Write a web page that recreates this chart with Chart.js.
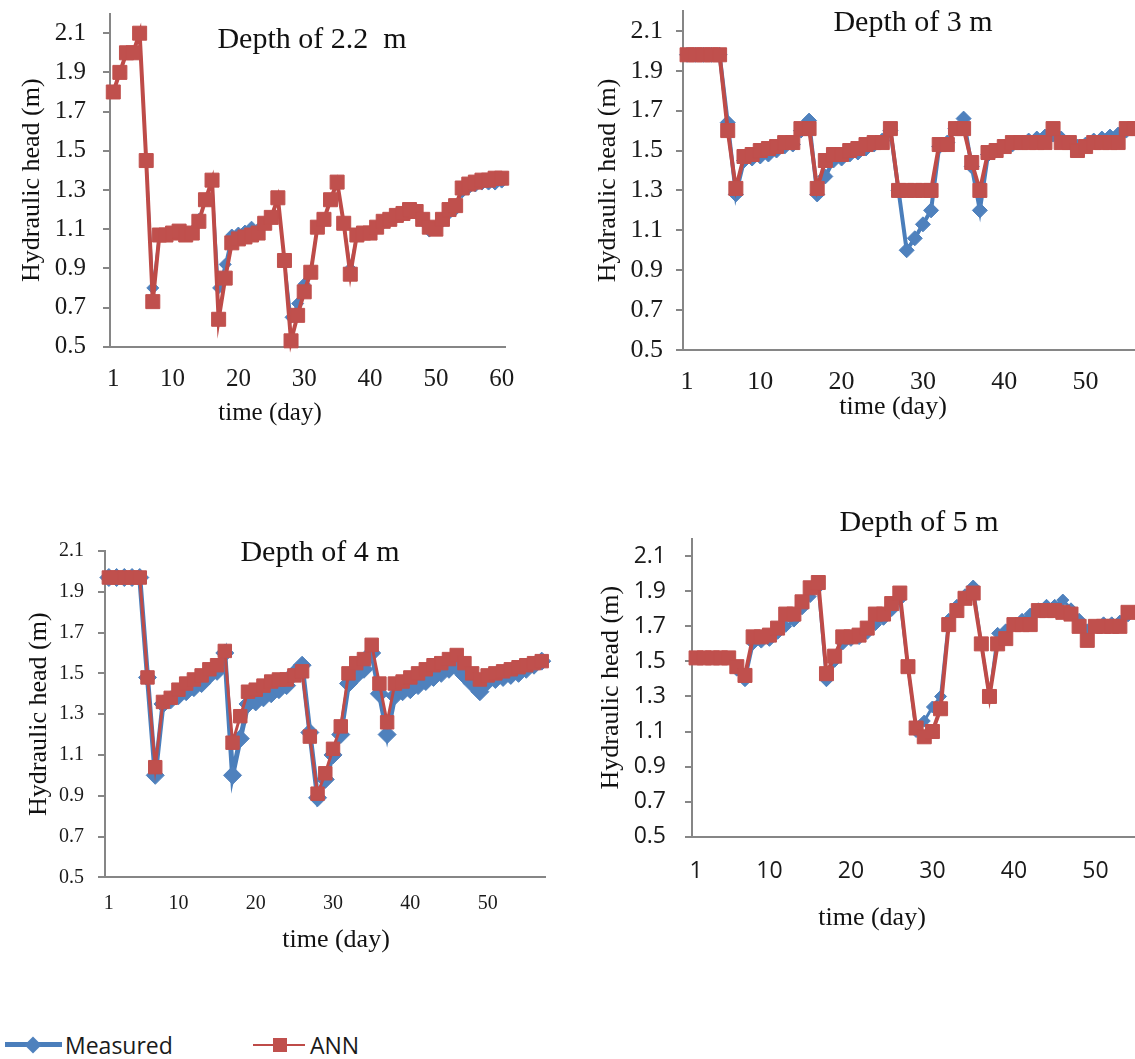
<!DOCTYPE html>
<html>
<head>
<meta charset="utf-8">
<script src="https://cdn.jsdelivr.net/npm/chart.js@4.4.1/dist/chart.umd.min.js"></script>
<style>
  html, body { margin: 0; padding: 0; background: #fff; overflow: hidden; }
  #wrap { position: relative; width: 1135px; height: 1059px; overflow: hidden; background: #fff; }
  #wrap canvas { position: absolute; }
  .leg { position: absolute; font-family: "Open Sans", sans-serif; font-size: 23px; color: #1a1a1a; line-height: 26px; height: 26px; }
  .legline { position: absolute; }
</style>
</head>
<body>
<div id="wrap">
  <canvas id="c1" width="560" height="440" style="left:0px;top:0px"></canvas>
  <canvas id="c2" width="640" height="440" style="left:560px;top:0px"></canvas>
  <canvas id="c3" width="560" height="500" style="left:0px;top:480px"></canvas>
  <canvas id="c4" width="640" height="480" style="left:560px;top:480px"></canvas>

  <div class="legline" style="left:5px;top:1042px;width:57px;height:5px;background:#4a7ebb"></div>
  <div class="legline" style="left:27px;top:1039px;width:12px;height:12px;background:#4f81bd;transform:rotate(45deg)"></div>
  <div class="leg" style="left:65px;top:1032px">Measured</div>
  <div class="legline" style="left:253px;top:1044px;width:52px;height:2px;background:#be4b48"></div>
  <div class="legline" style="left:273px;top:1038px;width:14px;height:14px;background:#c0504d"></div>
  <div class="leg" style="left:310px;top:1032px">ANN</div>
</div>
<script>
// tick values
var yTicks = [0.5, 0.7, 0.9, 1.1, 1.3, 1.5, 1.7, 1.9, 2.1];
var xTicks60 = [1, 10, 20, 30, 40, 50, 60];
var xTicks57 = [1, 10, 20, 30, 40, 50];

// depth 2.2 m
var measured22 = [1.80, 1.90, 2.00, 2.00, 2.10, 1.45, 0.80, 1.07, 1.07, 1.08,
                  1.09, 1.08, 1.09, 1.15, 1.25, 1.34, 0.80, 0.92, 1.07, 1.08,
                  1.09, 1.11, 1.10, 1.13, 1.16, 1.25, 0.94, 0.65, 0.72, 0.82,
                  0.89, 1.11, 1.15, 1.25, 1.33, 1.13, 0.90, 1.07, 1.08, 1.08,
                  1.11, 1.13, 1.15, 1.16, 1.17, 1.19, 1.18, 1.14, 1.09, 1.10,
                  1.14, 1.18, 1.20, 1.29, 1.31, 1.32, 1.33, 1.33, 1.33, 1.34];
var ann22 = [1.80, 1.90, 2.00, 2.00, 2.10, 1.45, 0.73, 1.07, 1.07, 1.08,
             1.09, 1.07, 1.08, 1.14, 1.25, 1.35, 0.64, 0.85, 1.03, 1.05,
             1.06, 1.07, 1.08, 1.13, 1.16, 1.26, 0.94, 0.53, 0.66, 0.78,
             0.88, 1.11, 1.15, 1.25, 1.34, 1.13, 0.87, 1.07, 1.08, 1.08,
             1.11, 1.14, 1.15, 1.17, 1.18, 1.20, 1.19, 1.15, 1.11, 1.10,
             1.15, 1.20, 1.22, 1.31, 1.33, 1.34, 1.35, 1.35, 1.36, 1.36];

// depth 3 m
var measured3 = [1.98, 1.98, 1.98, 1.98, 1.98, 1.64, 1.28, 1.45, 1.46, 1.47,
                 1.48, 1.50, 1.52, 1.53, 1.60, 1.65, 1.28, 1.37, 1.45, 1.46,
                 1.48, 1.49, 1.51, 1.53, 1.55, 1.60, 1.30, 1.00, 1.06, 1.13,
                 1.20, 1.52, 1.54, 1.61, 1.66, 1.42, 1.20, 1.48, 1.50, 1.52,
                 1.53, 1.54, 1.55, 1.56, 1.57, 1.58, 1.56, 1.54, 1.52, 1.53,
                 1.55, 1.56, 1.57, 1.58, 1.60, 1.61];
var ann3 = [1.98, 1.98, 1.98, 1.98, 1.98, 1.60, 1.31, 1.47, 1.48, 1.50,
            1.51, 1.52, 1.54, 1.54, 1.61, 1.61, 1.31, 1.45, 1.48, 1.48,
            1.50, 1.51, 1.53, 1.54, 1.54, 1.61, 1.30, 1.30, 1.30, 1.30,
            1.30, 1.53, 1.53, 1.61, 1.61, 1.44, 1.30, 1.49, 1.50, 1.52,
            1.54, 1.54, 1.54, 1.54, 1.54, 1.61, 1.54, 1.54, 1.50, 1.52,
            1.54, 1.54, 1.54, 1.54, 1.61, 1.61];

// depth 4 m
var measured4 = [1.97, 1.97, 1.97, 1.97, 1.97, 1.48, 1.00, 1.35, 1.37, 1.39,
                 1.41, 1.43, 1.45, 1.49, 1.51, 1.60, 1.00, 1.18, 1.35, 1.36,
                 1.38, 1.40, 1.42, 1.44, 1.50, 1.54, 1.21, 0.89, 0.98, 1.10,
                 1.20, 1.45, 1.49, 1.52, 1.60, 1.40, 1.20, 1.39, 1.41, 1.42,
                 1.44, 1.46, 1.48, 1.50, 1.52, 1.53, 1.49, 1.45, 1.41, 1.46,
                 1.47, 1.48, 1.49, 1.50, 1.52, 1.54, 1.56];
var ann4 = [1.97, 1.97, 1.97, 1.97, 1.97, 1.48, 1.04, 1.36, 1.38, 1.42,
            1.45, 1.47, 1.49, 1.52, 1.54, 1.61, 1.16, 1.29, 1.41, 1.42,
            1.44, 1.46, 1.47, 1.47, 1.49, 1.51, 1.19, 0.91, 1.01, 1.13,
            1.24, 1.50, 1.55, 1.57, 1.64, 1.45, 1.26, 1.45, 1.46, 1.48,
            1.50, 1.52, 1.54, 1.55, 1.57, 1.59, 1.55, 1.50, 1.47, 1.49,
            1.50, 1.51, 1.52, 1.53, 1.54, 1.55, 1.56];

// depth 5 m
var measured5 = [1.52, 1.52, 1.52, 1.52, 1.52, 1.45, 1.39, 1.60, 1.61, 1.62,
                 1.66, 1.70, 1.73, 1.80, 1.87, 1.92, 1.39, 1.50, 1.60, 1.62,
                 1.63, 1.66, 1.71, 1.74, 1.79, 1.85, 1.47, 1.10, 1.16, 1.24,
                 1.30, 1.74, 1.82, 1.88, 1.93, 1.60, 1.30, 1.66, 1.68, 1.71,
                 1.74, 1.77, 1.80, 1.82, 1.82, 1.85, 1.80, 1.74, 1.68, 1.70,
                 1.72, 1.72, 1.73, 1.76];
var ann5 = [1.52, 1.52, 1.52, 1.52, 1.52, 1.47, 1.42, 1.64, 1.64, 1.65,
            1.69, 1.77, 1.77, 1.84, 1.92, 1.95, 1.43, 1.53, 1.64, 1.64,
            1.65, 1.69, 1.77, 1.77, 1.83, 1.89, 1.47, 1.12, 1.07, 1.10,
            1.23, 1.71, 1.79, 1.86, 1.89, 1.60, 1.30, 1.60, 1.63, 1.71,
            1.71, 1.71, 1.79, 1.79, 1.79, 1.78, 1.77, 1.70, 1.62, 1.70,
            1.70, 1.70, 1.70, 1.78];

var serif = '"Liberation Serif", "Times New Roman", serif';
var sans = '"Open Sans", sans-serif';

// draws panel title and x axis title at fixed spots
var panelText = {
    id: 'panelText',
    afterDraw: function(chart, args, opts) {
        var ctx = chart.ctx;
        (opts.items || []).forEach(function(it) {
            ctx.save();
            ctx.font = it.size + 'px ' + serif;
            ctx.fillStyle = '#111';
            ctx.textAlign = 'center';
            ctx.textBaseline = 'middle';
            ctx.fillText(it.text, it.x, it.y);
            ctx.restore();
        });
    }
};

function toPoints(arr) {
    return arr.map(function(v, i) { return {x: i + 1, y: v}; });
}

function panel(id, p) {
    var box = p.box, area = p.area;
    var yW = area.l - box.l;
    var xH = box.t + box.h - area.b;
    var tickFont = p.sansTicks ? sans : serif;

    new Chart(document.getElementById(id), {
        type: 'line',
        data: {
            datasets: [{
                label: 'ANN',
                data: toPoints(p.ann),
                order: 1,
                borderColor: '#be4b48',
                borderWidth: p.annLine,
                pointStyle: 'rect',
                pointRadius: p.sq,
                pointBackgroundColor: '#c0504d',
                pointBorderColor: '#c0504d',
                pointBorderWidth: 1,
                tension: 0,
                clip: false
            }, {
                label: 'Measured',
                data: toPoints(p.meas),
                order: 2,
                borderColor: '#4a7ebb',
                borderWidth: p.measLine,
                pointStyle: 'rectRot',
                pointRadius: p.dia,
                pointBackgroundColor: '#4f81bd',
                pointBorderColor: '#4f81bd',
                pointBorderWidth: 1,
                tension: 0,
                clip: false
            }]
        },
        options: {
            responsive: false,
            animation: false,
            devicePixelRatio: 1,
            layout: {
                padding: { left: 0, top: area.t - box.t, right: box.l + box.w - area.r, bottom: 0 }
            },
            plugins: {
                legend: { display: false },
                tooltip: { enabled: false },
                panelText: {
                    items: [
                        { text: p.title, x: p.titlePos[0] - box.l, y: p.titlePos[1] - box.t, size: 30 },
                        { text: 'time (day)', x: p.xTitlePos[0] - box.l, y: p.xTitlePos[1] - box.t, size: p.xTitleSize }
                    ]
                }
            },
            scales: {
                x: {
                    type: 'linear',
                    min: 0.5,
                    max: p.xMax,
                    afterBuildTicks: function(s) { s.ticks = p.xTicks.map(function(v) { return {value: v}; }); },
                    afterFit: function(s) { s.height = xH; s.paddingLeft = 0; s.paddingRight = 0; },
                    grid: { display: false, drawTicks: false },
                    border: { display: true, color: '#868686', width: 2 },
                    ticks: {
                        font: { family: tickFont, size: p.xFs },
                        color: '#1a1a1a',
                        padding: p.xPad,
                        maxRotation: 0,
                        autoSkip: false,
                        callback: function(v) { return v; }
                    }
                },
                y: {
                    min: 0.5,
                    max: p.yMax,
                    afterBuildTicks: function(s) { s.ticks = yTicks.map(function(v) { return {value: v}; }); },
                    afterFit: function(s) { s.width = yW; s.paddingTop = 0; s.paddingBottom = 0; },
                    grid: { drawOnChartArea: false, drawTicks: true, tickLength: 7, color: '#868686', lineWidth: 2 },
                    border: { display: true, color: '#868686', width: 2 },
                    ticks: {
                        font: { family: tickFont, size: p.yFs },
                        color: '#1a1a1a',
                        padding: p.yPad,
                        autoSkip: false,
                        callback: function(v) { return v.toFixed(1); }
                    },
                    title: {
                        display: true,
                        text: 'Hydraulic head (m)',
                        font: { family: serif, size: 26 },
                        color: '#111',
                        padding: { top: p.yTitleX - 15.6, bottom: 0 }
                    }
                }
            }
        },
        plugins: [panelText]
    });
}

panel('c1', {
    meas: measured22, ann: ann22, title: 'Depth of 2.2  m',
    box: {l: 0, t: 0, w: 560, h: 440}, area: {l: 110, r: 505, t: 13.6, b: 346.7},
    xMax: 60.5, yMax: 2.2, xTicks: xTicks60,
    xFs: 25, xPad: 18, yFs: 25, yPad: 17, yTitleX: 32,
    titlePos: [312, 40], xTitlePos: [270, 413], xTitleSize: 25,
    annLine: 4, measLine: 2.5, sq: 9.9, dia: 6
});

panel('c2', {
    meas: measured3, ann: ann3, title: 'Depth of 3 m',
    box: {l: 560, t: 0, w: 640, h: 440}, area: {l: 683, r: 1171, t: 3.6, b: 350},
    xMax: 60.5, yMax: 2.2, xTicks: xTicks60,
    xFs: 26, xPad: 17, yFs: 26, yPad: 13, yTitleX: 48,
    titlePos: [913, 23], xTitlePos: [893, 407], xTitleSize: 26,
    annLine: 4, measLine: 4, sq: 9.9, dia: 7.5
});

panel('c3', {
    meas: measured4, ann: ann4, title: 'Depth of 4 m',
    box: {l: 0, t: 480, w: 560, h: 500}, area: {l: 105, r: 545.6, t: 551, b: 877.3},
    xMax: 57.5, yMax: 2.1, xTicks: xTicks57,
    xFs: 20, xPad: 14, yFs: 20, yPad: 14, yTitleX: 39,
    titlePos: [320, 553], xTitlePos: [336, 940], xTitleSize: 26,
    annLine: 3, measLine: 5, sq: 9.5, dia: 9
});

panel('c4', {
    meas: measured5, ann: ann5, title: 'Depth of 5 m',
    box: {l: 560, t: 480, w: 640, h: 480}, area: {l: 692, r: 1181, t: 538.7, b: 836.7},
    xMax: 60.5, yMax: 2.2, xTicks: xTicks60, sansTicks: true,
    xFs: 23, xPad: 21, yFs: 23, yPad: 19, yTitleX: 51,
    titlePos: [919, 523], xTitlePos: [872, 918], xTitleSize: 26,
    annLine: 4, measLine: 3, sq: 9.9, dia: 6
});
</script>
</body>
</html>
